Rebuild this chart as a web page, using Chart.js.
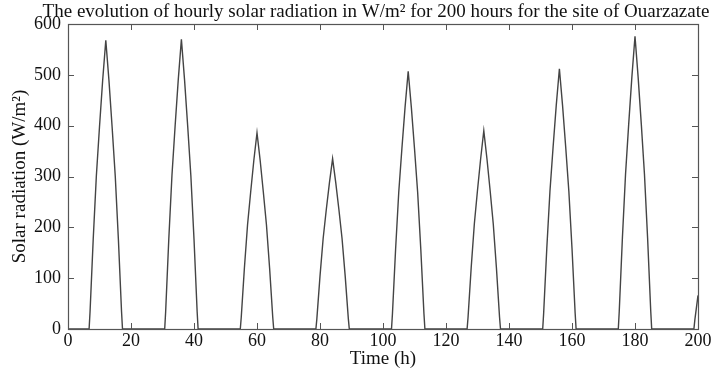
<!DOCTYPE html>
<html>
<head>
<meta charset="utf-8">
<script src="https://cdn.jsdelivr.net/npm/chart.js@4.4.1/dist/chart.umd.min.js"></script>
<style>
html,body{margin:0;padding:0;background:#fff;}
canvas{display:block;}
</style>
</head>
<body>
<canvas id="c" width="720" height="372"></canvas>
<script>
// ---- data ----
const chartTitle = "The evolution of hourly solar radiation in W/m\u00B2 for 200 hours for the site of Ouarzazate";
const xTitle = "Time (h)";
const yTitle = "Solar radiation (W/m\u00B2)";
const xTicks = [0, 20, 40, 60, 80, 100, 120, 140, 160, 180, 200];
const yTicks = [0, 100, 200, 300, 400, 500, 600];

// sunrise / sunset (radiation reaches zero), hours
const sunrise = [6.7, 30.7, 54.7, 78.7, 102.7, 126.7, 150.7, 174.7, 198.7];
const sunset  = [17.3, 41.3, 65.3, 89.3, 113.3, 137.3, 161.3, 185.3];
// first full hour of daylight for each day
const firstHour = [7, 31, 55, 79, 103, 127, 151, 175, 199];
// hourly values (W/m²) of each day, from the first daylight hour on
const day1 = [34, 176, 301, 398, 489, 568, 489, 398, 301, 176, 34];
const day2 = [34, 177, 302, 399, 490, 570, 490, 399, 302, 177, 34];
const day3 = [23, 120, 205, 270, 332, 386, 332, 270, 205, 120, 23];
const day4 = [20, 104, 178, 235, 288, 335, 288, 235, 178, 104, 20];
const day5 = [30, 157, 269, 355, 436, 507, 436, 355, 269, 157, 30];
const day6 = [23, 121, 207, 273, 335, 390, 335, 273, 207, 121, 23];
const day7 = [31, 159, 271, 358, 440, 512, 440, 358, 271, 159, 31];
const day8 = [35, 179, 305, 403, 495, 576, 495, 403, 305, 179, 35];
const day9 = [18, 66];
const days = [day1, day2, day3, day4, day5, day6, day7, day8, day9];

// ---- build points ----
const pts = [{x: 0, y: 0}];
days.forEach((vals, d) => {
  pts.push({x: sunrise[d], y: 0});
  vals.forEach((v, i) => pts.push({x: firstHour[d] + i, y: v}));
  if (d < sunset.length) pts.push({x: sunset[d], y: 0});
});

const AX = '#555';
const FONT = "'Liberation Serif', 'Times New Roman', serif";

const decor = {
  id: 'decor',
  afterDraw(chart) {
    const {ctx, chartArea: a, scales: {x, y}} = chart;
    ctx.save();
    ctx.strokeStyle = AX;
    ctx.lineWidth = 1;
    ctx.beginPath();
    const L = 6;
    xTicks.forEach(t => {
      const px = Math.round(x.getPixelForValue(t)) + 0.5;
      ctx.moveTo(px, a.bottom); ctx.lineTo(px, a.bottom - L);
      ctx.moveTo(px, a.top); ctx.lineTo(px, a.top + L);
    });
    yTicks.forEach(t => {
      const py = Math.round(y.getPixelForValue(t)) + 0.5;
      ctx.moveTo(a.left, py); ctx.lineTo(a.left + L, py);
      ctx.moveTo(a.right, py); ctx.lineTo(a.right - L, py);
    });
    ctx.stroke();
    ctx.lineWidth = 1.2;
    ctx.strokeRect(Math.round(a.left) + 0.5, Math.round(a.top) + 0.5,
                   Math.round(a.right - a.left), Math.round(a.bottom - a.top));
    // titles
    ctx.fillStyle = '#111';
    ctx.textAlign = 'center';
    ctx.textBaseline = 'alphabetic';
    ctx.font = '19px ' + FONT;
    ctx.fillText(chartTitle, 376, 17);
    ctx.fillText(xTitle, (a.left + a.right) / 2, 364);
    ctx.translate(25, (a.top + a.bottom) / 2);
    ctx.rotate(-Math.PI / 2);
    ctx.fillText(yTitle, 0, 0);
    ctx.restore();
  }
};

new Chart(document.getElementById('c'), {
  type: 'line',
  data: {
    datasets: [{
      data: pts,
      borderColor: '#444',
      borderWidth: 1.4,
      pointRadius: 0,
      tension: 0,
      fill: false
    }]
  },
  options: {
    responsive: false,
    animation: false,
    devicePixelRatio: 1,
    layout: {padding: {top: 24, right: 22, left: 0, bottom: 0}},
    plugins: {legend: {display: false}, tooltip: {enabled: false}, title: {display: false}},
    scales: {
      x: {
        type: 'linear', min: 0, max: 200,
        afterBuildTicks: s => { s.ticks = xTicks.map(v => ({value: v})); },
        afterFit: s => { s.height = 43; },
        grid: {display: false, drawTicks: false},
        border: {display: false},
        ticks: {color: '#111', font: {family: FONT, size: 18}, padding: 1, maxRotation: 0, autoSkip: false}
      },
      y: {
        type: 'linear', min: 0, max: 600,
        afterBuildTicks: s => { s.ticks = yTicks.map(v => ({value: v})); },
        afterFit: s => { s.width = 68; },
        grid: {display: false, drawTicks: false},
        border: {display: false},
        ticks: {color: '#111', font: {family: FONT, size: 18}, padding: 7, autoSkip: false}
      }
    }
  },
  plugins: [decor]
});
</script>
</body>
</html>
